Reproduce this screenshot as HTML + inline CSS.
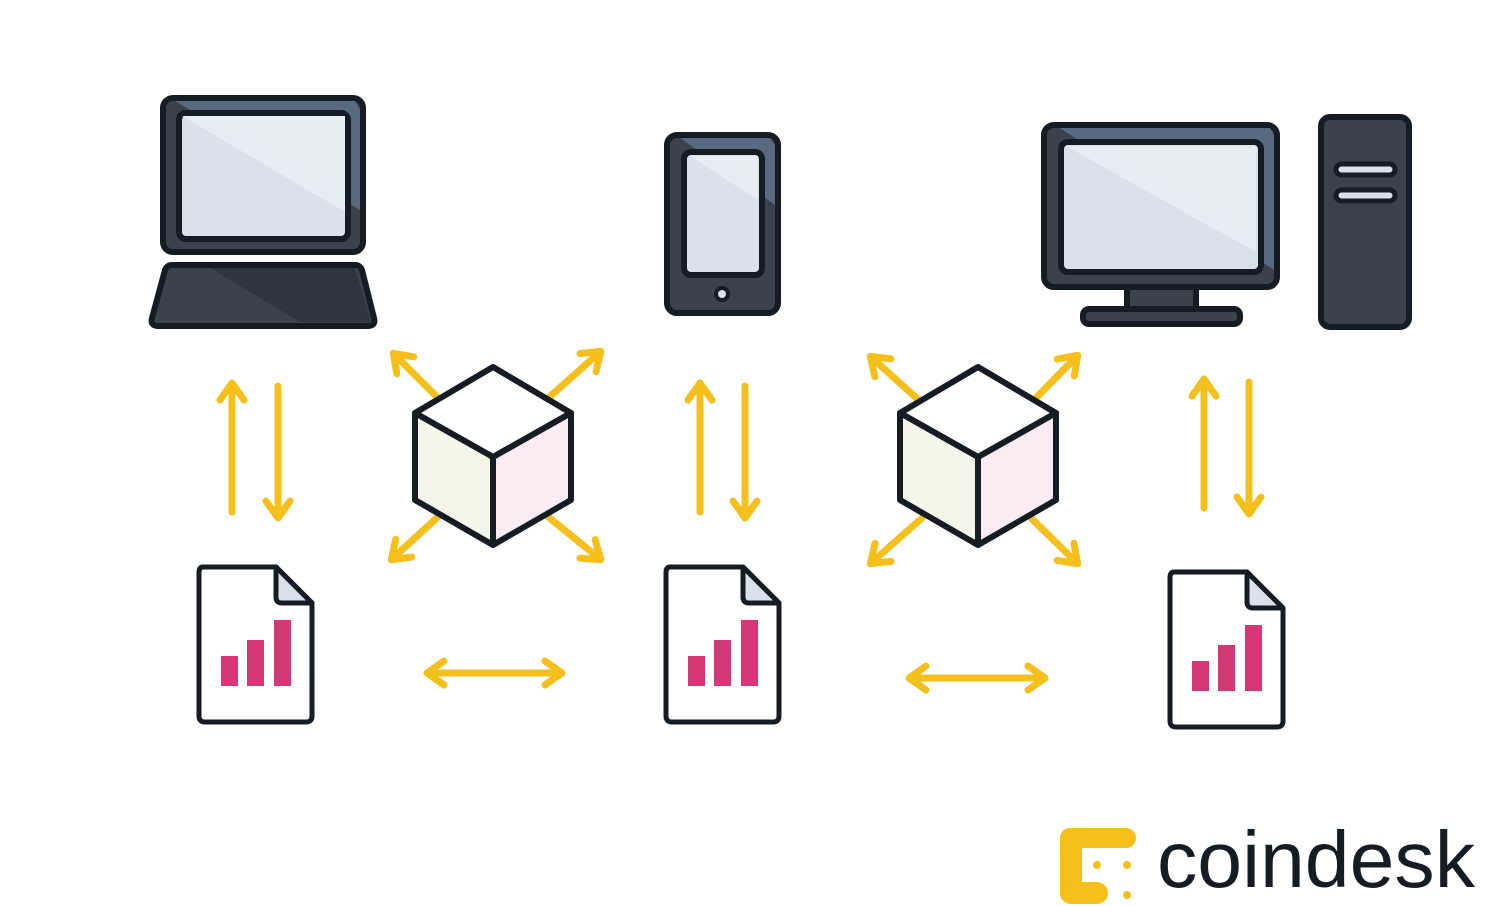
<!DOCTYPE html>
<html><head><style>html,body{margin:0;padding:0;background:#fff}svg{display:block}</style></head><body>
<svg width="1500" height="906" viewBox="0 0 1500 906" xmlns="http://www.w3.org/2000/svg">
<defs>
<marker id="ah" viewBox="0 0 32 32" refX="22" refY="16" markerWidth="32" markerHeight="32" markerUnits="userSpaceOnUse" orient="auto-start-reverse">
<path d="M6,4 L23,16 L6,28" fill="none" stroke="#f5bf1c" stroke-width="7" stroke-linecap="round" stroke-linejoin="round"/></marker>
</defs>
<g stroke="#161c24" stroke-width="6" stroke-linejoin="round">
<rect x="163" y="98" width="200" height="154" rx="10" fill="#3b414d"/>
<path d="M175,101 L355,101 L360,110 L360,210 Z" fill="#596a80" stroke="none"/>
<rect x="179" y="113" width="169" height="126" rx="7" fill="#dae1ea"/>
<path d="M182,116 L345,116 L345,212 Z" fill="#e6edf5" stroke="none"/>
<path d="M172,265 L355,265 Q360,265 362,270 L374,318 Q376,326 368,326 L158,326 Q150,326 152,318 L165,270 Q167,265 172,265 Z" fill="#3b414d"/>
<path d="M210,268 L355,268 L371,322 L300,322 Z" fill="#2f3540" stroke="none"/>
<rect x="667" y="135" width="111" height="178" rx="10" fill="#3b414d"/>
<path d="M680,138 L770,138 L775,145 L775,205 Z" fill="#596a80" stroke="none"/>
<rect x="684" y="152" width="78" height="123" rx="7" fill="#dae1ea"/>
<path d="M690,156 L758,156 L758,200 Z" fill="#e6edf5" stroke="none"/>
<circle cx="722" cy="294" r="6" fill="#dae1ea" stroke-width="4"/>
<rect x="1127" y="286" width="69" height="26" fill="#3b414d"/>
<rect x="1083" y="309" width="157" height="15" rx="6" fill="#3b414d"/>
<rect x="1044" y="125" width="233" height="162" rx="10" fill="#3b414d"/>
<path d="M1060,128 L1270,128 L1274,135 L1274,270 Z" fill="#596a80" stroke="none"/>
<rect x="1061" y="142" width="200" height="130" rx="7" fill="#dae1ea"/>
<path d="M1066,146 L1256,146 L1256,252 Z" fill="#e6edf5" stroke="none"/>
<rect x="1321" y="117" width="88" height="210" rx="9" fill="#3b414d"/>
<rect x="1336" y="164" width="59" height="11" rx="5.5" fill="#dae1ea" stroke-width="5"/>
<rect x="1336" y="190" width="59" height="11" rx="5.5" fill="#dae1ea" stroke-width="5"/>
</g>
<g stroke="#f5bf1c" stroke-width="7" stroke-linecap="round" fill="none">
<line x1="232" y1="512" x2="232" y2="384" marker-end="url(#ah)"/>
<line x1="278" y1="386" x2="278" y2="517" marker-end="url(#ah)"/>
<line x1="700" y1="512" x2="700" y2="384" marker-end="url(#ah)"/>
<line x1="745" y1="386" x2="745" y2="517" marker-end="url(#ah)"/>
<line x1="1204" y1="508" x2="1204" y2="380" marker-end="url(#ah)"/>
<line x1="1249" y1="382" x2="1249" y2="513" marker-end="url(#ah)"/>
<line x1="428" y1="673" x2="561" y2="673" marker-start="url(#ah)" marker-end="url(#ah)"/>
<line x1="910" y1="678" x2="1044" y2="678" marker-start="url(#ah)" marker-end="url(#ah)"/>
<line x1="440" y1="400" x2="394" y2="354" marker-end="url(#ah)"/>
<line x1="546" y1="400" x2="600" y2="352" marker-end="url(#ah)"/>
<line x1="440" y1="515" x2="392" y2="559" marker-end="url(#ah)"/>
<line x1="546" y1="515" x2="600" y2="559" marker-end="url(#ah)"/>
<line x1="922" y1="403" x2="871" y2="357" marker-end="url(#ah)"/>
<line x1="1031" y1="403" x2="1077" y2="356" marker-end="url(#ah)"/>
<line x1="922" y1="518" x2="871" y2="563" marker-end="url(#ah)"/>
<line x1="1031" y1="518" x2="1077" y2="563" marker-end="url(#ah)"/>
</g>
<g stroke="#161c24" stroke-width="6" stroke-linejoin="round">
<path d="M493,367 L571,413 L493,457 L415,413 Z" fill="#fff"/>
<path d="M415,413 L493,457 L493,545 L415,500 Z" fill="#f3f6e9"/>
<path d="M571,413 L493,457 L493,545 L571,500 Z" fill="#fbecf3"/>
<path d="M978,367 L1056,413 L978,457 L900,413 Z" fill="#fff"/>
<path d="M900,413 L978,457 L978,545 L900,500 Z" fill="#f3f6e9"/>
<path d="M1056,413 L978,457 L978,545 L1056,500 Z" fill="#fbecf3"/>
</g>
<g id="d1">
<path d="M203,567 L276,567 L312,603 L312,716 Q312,722 306,722 L205,722 Q199,722 199,716 L199,573 Q199,567 203,567 Z" fill="#fff" stroke="#161c24" stroke-width="5" stroke-linejoin="round"/>
<path d="M276,567 L276,597 Q276,603 282,603 L312,603 Z" fill="#dae1ea" stroke="#161c24" stroke-width="5" stroke-linejoin="round"/>
<rect x="221" y="656" width="17" height="30" fill="#d63877"/>
<rect x="247" y="640" width="17" height="46" fill="#d63877"/>
<rect x="274" y="620" width="17" height="66" fill="#d63877"/>
</g>
<use href="#d1" x="467" y="0"/>
<use href="#d1" x="971" y="5"/>
<g fill="#f5bf1c">
<rect x="1060" y="828" width="22" height="75" rx="11"/>
<rect x="1060" y="828" width="76" height="20" rx="10"/>
<rect x="1060" y="882" width="48" height="22" rx="11"/>
<circle cx="1097" cy="865" r="4"/><circle cx="1127" cy="865" r="4"/><circle cx="1127" cy="895" r="4"/>
</g>
<text x="1157" y="887" font-family="'Liberation Sans',sans-serif" font-size="80" fill="#161c24" textLength="318" lengthAdjust="spacingAndGlyphs">coindesk</text>
</svg>
</body></html>
